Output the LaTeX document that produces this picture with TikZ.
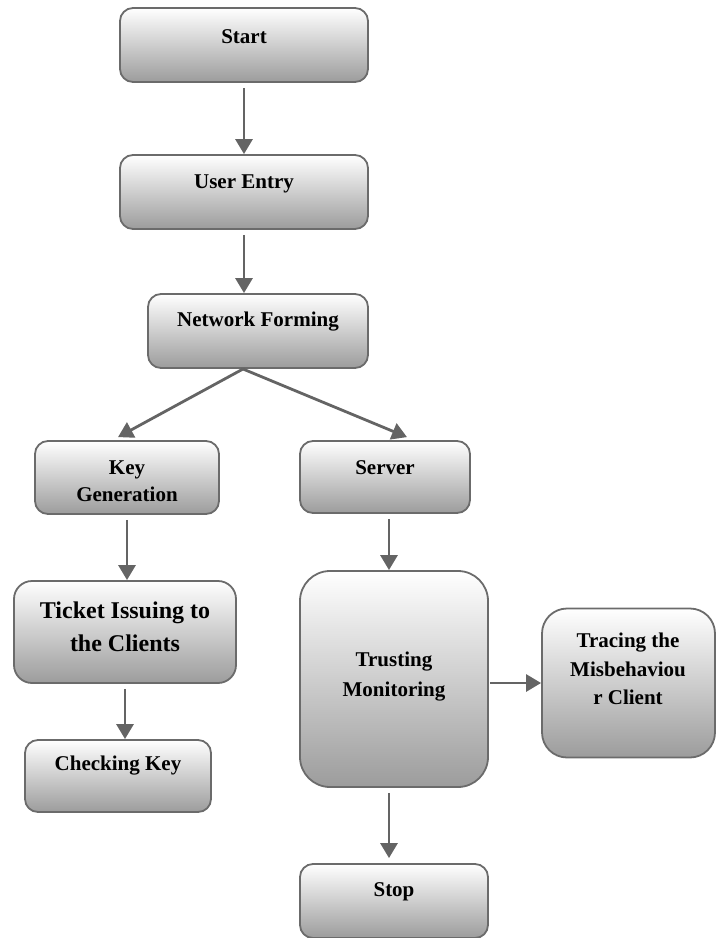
\documentclass[tikz,border=0pt]{standalone}
\usepackage{fontspec}
\setmainfont{Liberation Serif}
\usetikzlibrary{arrows.meta,calc}
\definecolor{edgec}{HTML}{6B6B6B}
\definecolor{arrc}{HTML}{646464}
\definecolor{shadebot}{HTML}{9C9C9C}
\begin{document}
\begin{tikzpicture}[x=1pt,y=-1pt,
  box/.style={draw=edgec, line width=1.8pt, rounded corners=13pt, top color=white, bottom color=shadebot, inner sep=0pt, rectangle},
  lbl/.style={align=center, font=\bfseries\fontsize{21}{27}\selectfont, inner sep=0pt},
  arr/.style={draw=arrc, line width=2.8pt, -{Triangle[length=15pt,width=17pt]}, shorten <=5pt}]
\useasboundingbox (0,0) rectangle (721,938);
% boxes
\node[box, minimum width=248pt, minimum height=74pt] (start) at (244,45) {};
\node[box, minimum width=248pt, minimum height=74pt] (user) at (244,192) {};
\node[box, minimum width=220pt, minimum height=74pt] (net) at (258,331) {};
\node[box, minimum width=184pt, minimum height=73pt] (key) at (127,477.5) {};
\node[box, minimum width=170pt, minimum height=72pt] (server) at (385,477) {};
\node[box, minimum width=222pt, minimum height=102pt, rounded corners=18pt] (ticket) at (125,632) {};
\node[box, minimum width=188pt, minimum height=216pt, rounded corners=30pt] (trust) at (394,679) {};
\node[box, minimum width=173pt, minimum height=149pt, rounded corners=25pt] (trace) at (628.5,683) {};
\node[box, minimum width=186pt, minimum height=72pt] (check) at (118,776) {};
\node[box, minimum width=188pt, minimum height=74pt] (stop) at (394,901) {};
% labels
\node[lbl] (startt) at (244,37) {Start};
\node[lbl] (usert) at (244,184) {User Entry};
\node[lbl] (nett) at (258,322) {Network Forming};
\node[lbl] (keyt) at (127,481) {Key\\Generation};
\node[lbl] (servert) at (385,468) {Server};
\node[lbl, font=\bfseries\fontsize{24}{33}\selectfont] (tickett) at (125,627) {Ticket Issuing to\\the Clients};
\node[lbl, font=\bfseries\fontsize{21}{30}\selectfont] (trustt) at (394,677) {Trusting\\Monitoring};
\node[lbl, font=\bfseries\fontsize{21}{28.5}\selectfont] (tracet) at (628,669) {Tracing the\\Misbehaviou\\r Client};
\node[lbl] (checkt) at (118,766) {Checking Key};
\node[lbl] (stopt) at (394,892) {Stop};
% connectors
\coordinate (netout) at (243,369);
\draw[arr] (start.south) -- (start.south |- user.north);
\draw[arr] (user.south) -- (user.south |- net.north);
\draw[arr, shorten <=0pt] (netout) -- ([xshift=-9pt,yshift=3pt]key.north);
\draw[arr, shorten <=0pt] (netout) -- ([xshift=22pt,yshift=3pt]server.north);
\draw[arr] (key.south) -- (key.south |- ticket.north);
\draw[arr] (ticket.south) -- (ticket.south |- check.north);
\draw[arr] ([xshift=4pt]server.south) -- ([xshift=-5pt]trust.north);
\draw[arr, shorten <=1pt] ([yshift=-4pt]trust.east) -- ([yshift=-4pt]trust.east -| trace.west);
\draw[arr] ([xshift=-5pt]trust.south) -- ([xshift=-5pt,yshift=5pt]trust.south |- stop.north);
\end{tikzpicture}
\end{document}
